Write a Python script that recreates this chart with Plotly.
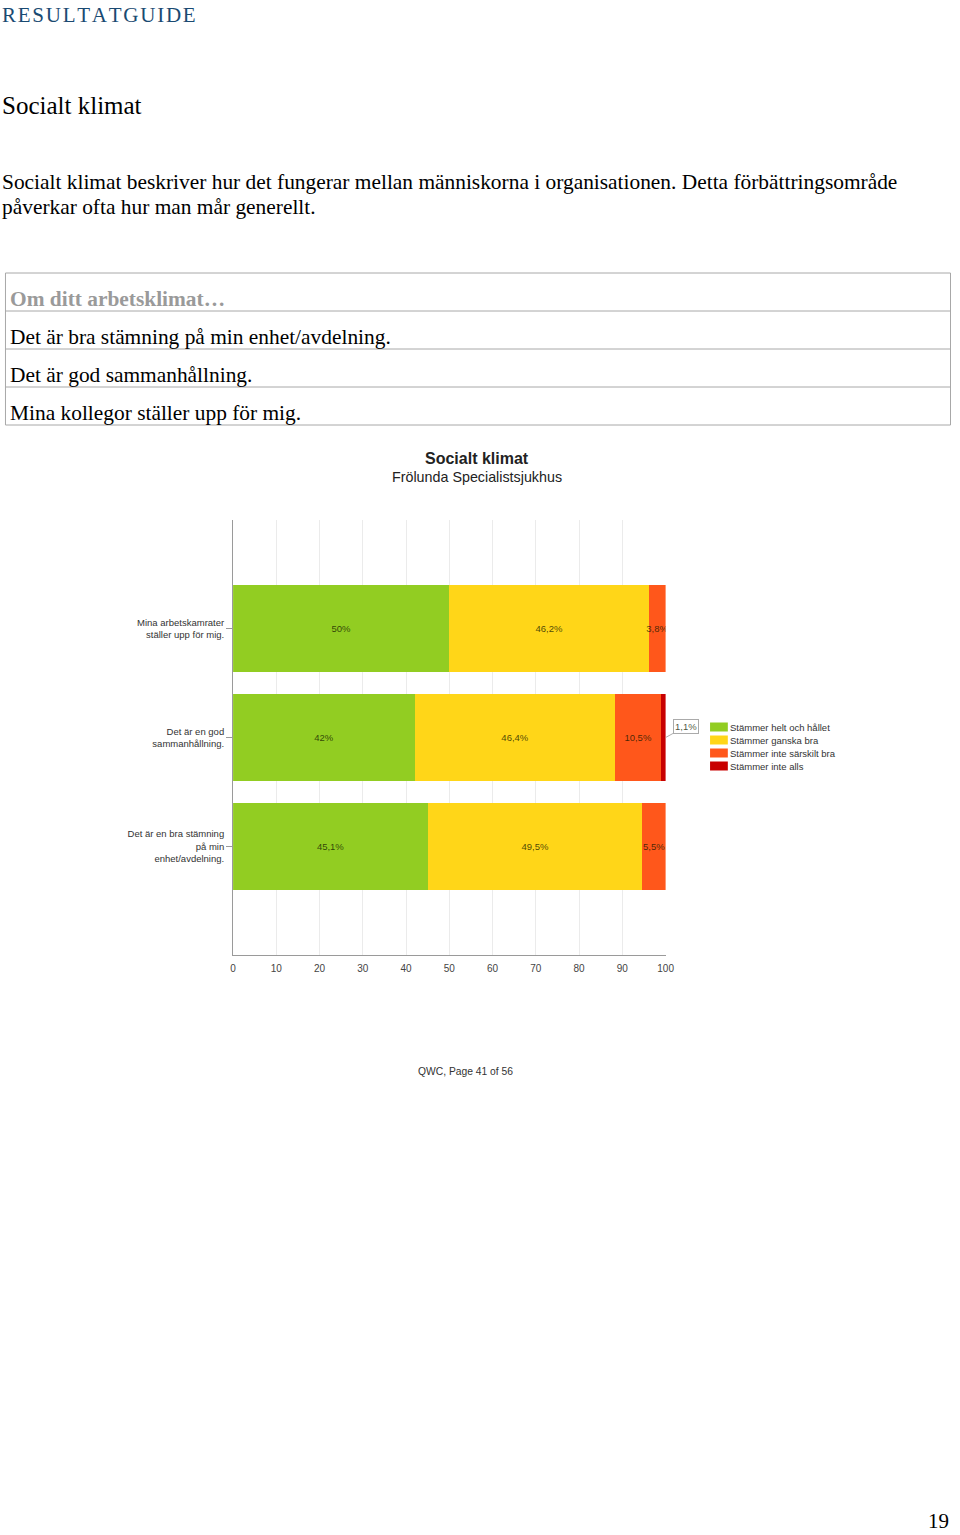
import plotly.graph_objects as go

W, H = 960, 1535

categories = [
    "Det är en bra stämning<br>på min<br>enhet/avdelning.",
    "Det är en god<br>sammanhållning.",
    "Mina arbetskamrater<br>ställer upp för mig.",
]
series_names = ["Stämmer helt och hållet", "Stämmer ganska bra",
                "Stämmer inte särskilt bra", "Stämmer inte alls"]
helt = [45.1, 42.0, 50.0]
ganska = [49.5, 46.4, 46.2]
inte_sarskilt = [5.5, 10.5, 3.8]
inte_alls = [0.0, 1.1, 0.0]
series_values = [helt, ganska, inte_sarskilt, inte_alls]
colors = ["#92cd22", "#ffd618", "#ff571b", "#c80000"]
x_ticks = list(range(0, 101, 10))

table_rows = ["Det är bra stämning på min enhet/avdelning.",
              "Det är god sammanhållning.",
              "Mina kollegor ställer upp för mig."]


def fmt(v):
    return f"{v:g}".replace(".", ",") + "%"


def px(x):
    return x / W


def py(y):
    return 1 - y / H


label_color = "rgba(20,25,0,0.78)"

fig = go.Figure()
for i, (name, vals, col) in enumerate(zip(series_names, series_values, colors)):
    texts = [fmt(v) if v >= 2 else "" for v in vals]
    fig.add_trace(go.Bar(
        y=categories, x=vals, name=name, orientation="h",
        marker=dict(color=col, line=dict(width=0)),
        text=texts, textposition="inside", insidetextanchor="middle",
        constraintext="none", textangle=0,
        textfont=dict(family="Liberation Sans", size=9.5, color=label_color),
        showlegend=False, hoverinfo="skip",
    ))

serif = "Liberation Serif"
sans = "Liberation Sans"
ann = []


def txt(text, x, y, size, color="#000", family=serif, anchor="left", yanchor="middle"):
    off = {"left": -5, "right": 4, "center": 0}[anchor]
    ann.append(dict(text=text, x=px(x + off), y=py(y),
                    xref="paper", yref="paper", xanchor=anchor, yanchor=yanchor,
                    showarrow=False, font=dict(family=family, size=size, color=color)))


txt("\u200a".join("RESULTATGUIDE"), 2, 15, 21, "#1a4a72")
txt("Socialt klimat", 2, 105, 25)
txt("Socialt klimat beskriver hur det fungerar mellan människorna i organisationen. Detta förbättringsområde",
    2, 182, 21.4)
txt("påverkar ofta hur man mår generellt.", 2, 207, 21.4)
txt("<b>Om ditt arbetsklimat…</b>", 10, 299, 21.4, "#9a9a9a")
for k, row in enumerate(table_rows):
    txt(row, 10, 337 + 38 * k, 21.4)
txt("<b>Socialt klimat</b>", 480, 459, 16, "#222", sans, "center")
txt("Frölunda Specialistsjukhus", 480, 477, 14.3, "#222", sans, "center")
txt("QWC, Page 41 of 56", 468, 1071, 10.3, "#333", sans, "center")
txt("19", 956, 1535, 21, "#000", serif, "right", "bottom")

# 1,1% callout
ann.append(dict(text=fmt(inte_alls[1]), x=100, y=categories[1], xref="x", yref="y",
                ax=20, ay=-11, showarrow=True, arrowhead=0, arrowwidth=0.8,
                arrowcolor="#999", bordercolor="#aaa", borderwidth=1, borderpad=1,
                bgcolor="white", font=dict(family=sans, size=9.5, color=label_color)))

shapes = []
# table
shapes.append(dict(type="rect", xref="paper", yref="paper", x0=px(2.5), x1=px(959.5),
                   y0=py(273), y1=py(425), line=dict(color="#a8a8a8", width=1)))
for yy in [311, 349, 387]:
    shapes.append(dict(type="line", xref="paper", yref="paper", x0=px(2.5), x1=px(959.5),
                       y0=py(yy), y1=py(yy), line=dict(color="#a8a8a8", width=1)))
# manual legend
for k, (name, col) in enumerate(zip(series_names, colors)):
    yc = 727 + 13 * k
    shapes.append(dict(type="rect", xref="paper", yref="paper", x0=px(716), x1=px(734),
                       y0=py(yc - 4.5), y1=py(yc + 4.5), fillcolor=col, line=dict(width=0)))
    txt(name, 739, yc, 9.5, "#333", sans)

fig.update_layout(
    width=W, height=H, autosize=False, margin=dict(l=0, r=0, t=0, b=0),
    paper_bgcolor="white", plot_bgcolor="white",
    barmode="stack", bargap=0.2,
    annotations=ann, shapes=shapes,
    xaxis=dict(domain=[px(233), px(671)], range=[0, 100], tickvals=x_ticks,
               ticktext=[str(t) for t in x_ticks],
               showgrid=True, gridcolor="#ebebeb", gridwidth=1, zeroline=False,
               showline=True, linecolor="#9a9a9a", linewidth=1, ticks="",
               ticklabelstandoff=4,
               tickfont=dict(family=sans, size=10, color="#444"), fixedrange=True),
    yaxis=dict(domain=[py(955), py(520)], range=[-1, 3], type="category",
               categoryorder="array", categoryarray=categories,
               showgrid=False, zeroline=False, showline=True, linecolor="#9a9a9a",
               linewidth=1, ticks="outside", ticklen=6, tickcolor="#9a9a9a",
               tickfont=dict(family=sans, size=9.5, color="#333"), fixedrange=True),
)

fig.write_html(
    "out.html",
    config={"responsive": False, "displayModeBar": False},
    post_script="document.body.style.margin='0';document.body.style.overflow='hidden';"
                "document.documentElement.style.overflow='hidden';",
)
